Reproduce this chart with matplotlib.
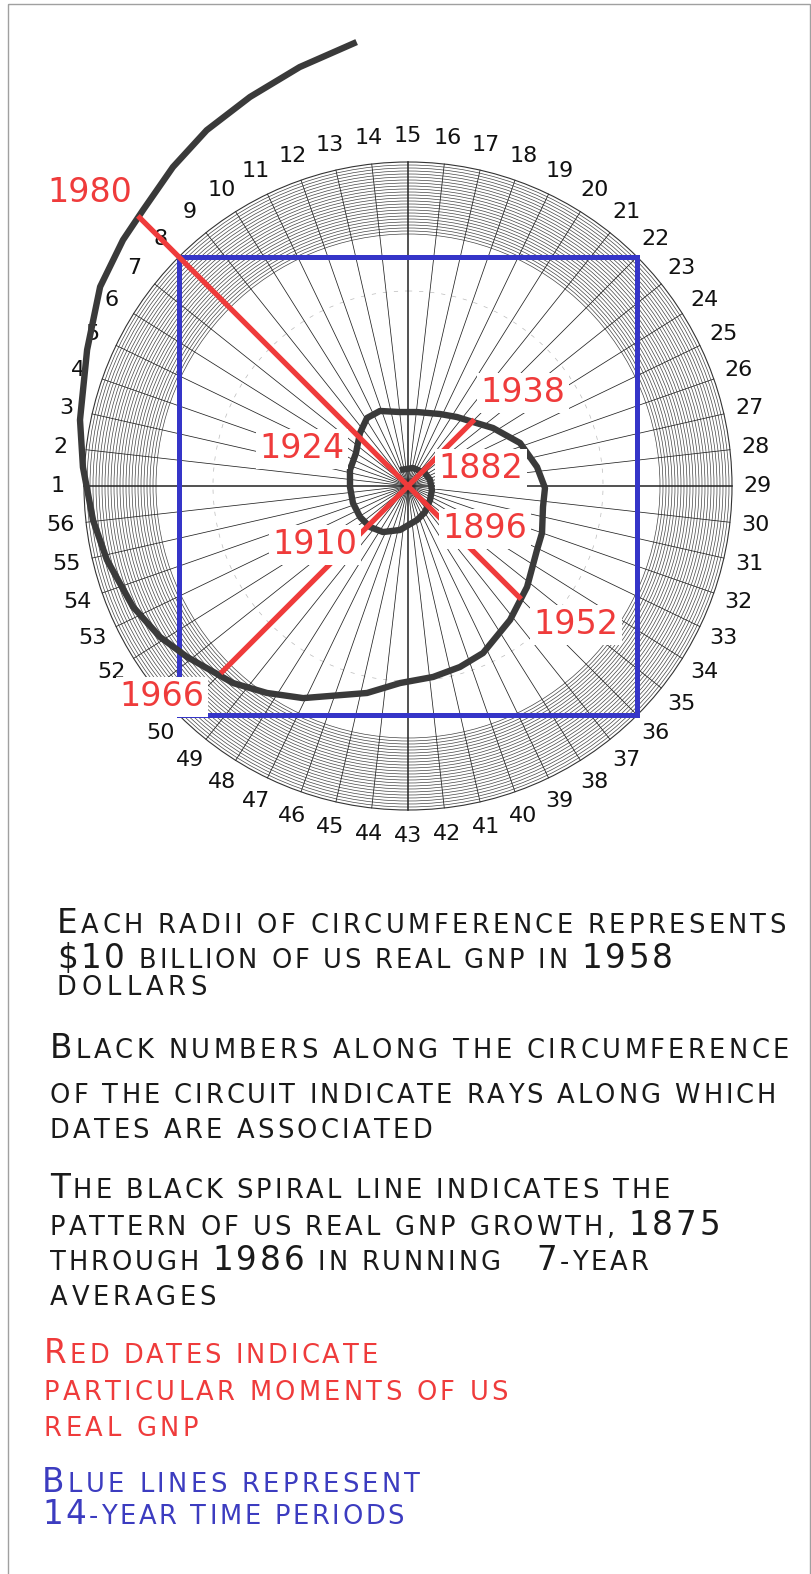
import numpy as np
import matplotlib.pyplot as plt
from matplotlib.patches import Circle, Rectangle
from matplotlib.font_manager import FontProperties

# ---------------- data ----------------
n_rays = 56
ray_numbers = list(range(1, n_rays + 1))

# black spiral (US real GNP, 7-year running averages), traced as angle (deg) / radius
spiral_angle = [116.6, 74.5, 37.4, 15.3, -9.5, -32.5, -56.8, -75.2, -100.3, -118.5,
                -132.8, -147.1, -162.8, -179.0, -195.4, -212.4, -227.8, -238.9, -249.5,
                -263.8, -276.9, -294.0, -305.4, -315.4, -325.7, -339.0, -351.6, -360.8,
                -368.8, -379.3, -386.4, -400.3, -412.7, -425.8, -434.0, -442.5, -452.3,
                -461.2, -476.3, -484.3, -491.6, -502.3, -508.7, -516.3, -526.2, -533.8,
                -543.3, -551.4, -563.0, -572.9, -580.8, -586.2, -593.6, -600.5, -607.9,
                -615.5, -623.4]
spiral_radius = [17.9, 18.7, 21.4, 22.8, 24.3, 26.1, 31.1, 35.2, 44.7, 52.4,
                 55.9, 57.1, 57.6, 58.0, 60.2, 61.6, 71.5, 79.4, 80.1,
                 74.4, 74.5, 78.8, 84.6, 91.2, 102.9, 120.0, 130.4, 137.0,
                 136.6, 142.0, 144.0, 156.1, 168.4, 183.1, 188.3, 192.6, 197.2,
                 211.0, 236.6, 250.5, 263.5, 279.4, 290.4, 300.4, 310.0, 316.8,
                 325.6, 334.6, 348.6, 366.7, 376.5, 382.6, 396.2, 408.8, 419.9,
                 432.7, 446.9]

# red lines: from (ray, radius) to (ray, radius), both pass through the centre
red_from_ray = [8, 50]
red_from_r = [382, 265]
red_to_ray = [36, 22]
red_to_r = [160, 94]

# blue square: corners on these rays (14-year periods)
square_rays = [8, 22, 36, 50]

red_dates = ["1980", "1938", "1924", "1882", "1896", "1910", "1952", "1966"]

notes = [
    ("Each radii of circumference represents", "black"),
    ("$10 billion of us real gnp in 1958", "black"),
    ("dollars", "black"),
    ("Black numbers along the circumference", "black"),
    ("of the circuit indicate rays along which", "black"),
    ("dates are associated", "black"),
    ("The black spiral line indicates the", "black"),
    ("pattern of us real gnp growth, 1875", "black"),
    ("through 1986 in running   7-year", "black"),
    ("averages", "black"),
    ("Red dates indicate", "red"),
    ("particular moments of us", "red"),
    ("real gnp", "red"),
    ("Blue lines represent", "blue"),
    ("14-year time periods", "blue"),
]

# ---------------- layout (pixels) ----------------
CX, CY = 408, 486
R_OUT = 324
R_LABEL = 350
date_pos = {"1980": (90, 193), "1938": (523, 393), "1924": (302, 449), "1882": (481, 469),
            "1896": (485, 529), "1910": (315, 545), "1952": (576, 625), "1966": (162, 697)}
# x, baseline y, right edge of each note line
note_pos = [(57, 933, 786), (57, 968, 673), (57, 995, 207),
            (50, 1058, 789), (50, 1103, 776), (50, 1138, 432),
            (50, 1198, 670), (50, 1235, 720), (50, 1270, 648), (50, 1305, 216),
            (44, 1363, 378), (44, 1400, 508), (44, 1436, 198),
            (42, 1492, 420), (42, 1524, 404)]
colors = {"black": "#1a1a1a", "red": "#ef3b3b", "blue": "#3c3cc0"}

RED = "#ef3b3b"
BLUE = "#3535c8"


def ray_angle(n):
    return np.radians(180 - (n - 1) * 360 / n_rays)


def to_xy(theta, r):
    return CX + r * np.cos(theta), CY - r * np.sin(theta)


fig = plt.figure(figsize=(8.12, 15.74), dpi=100)
ax = fig.add_axes([0, 0, 1, 1])
ax.set_xlim(0, 812)
ax.set_ylim(1574, 0)
ax.axis("off")

# frame
ax.add_patch(Rectangle((8, 4), 802, 1575, fill=False, ec="#a0a0a0", lw=1))

# polar paper: dense outer rings and rays
for rr in np.arange(252, R_OUT, 3):
    ax.add_patch(Circle((CX, CY), rr, fill=False, ec="#444444", lw=0.5, zorder=1))
ax.add_patch(Circle((CX, CY), R_OUT, fill=False, ec="#333333", lw=0.8, zorder=1))
ax.add_patch(Circle((CX, CY), 195, fill=False, ec="#bbbbbb", lw=0.5, ls=(0, (6, 10)), zorder=1))

for n in ray_numbers:
    t = ray_angle(n)
    x1, y1 = to_xy(t, R_OUT)
    main = n in (1, 15, 29, 43)
    ax.plot([CX, x1], [CY, y1], color="#222222", lw=1.1 if main else 0.55, zorder=1)
    lx, ly = to_xy(t, R_LABEL)
    ax.text(lx, ly, str(n), fontsize=16, family="DejaVu Sans", color="#111111",
            ha="center", va="center", zorder=2)

# blue square
bx, by = to_xy(np.array([ray_angle(n) for n in square_rays + square_rays[:1]]), R_OUT)
ax.plot(bx, by, color=BLUE, lw=3.6, solid_joinstyle="miter", zorder=3)

# spiral
sx, sy = to_xy(np.radians(spiral_angle), np.array(spiral_radius))
ax.plot(sx, sy, color="#3a3a3a", lw=4.6, solid_capstyle="butt", solid_joinstyle="round", zorder=4)

# red lines through the centre
for a, ra, b, rb in zip(red_from_ray, red_from_r, red_to_ray, red_to_r):
    xa, ya = to_xy(ray_angle(a), ra)
    xb, yb = to_xy(ray_angle(b), rb)
    ax.plot([xa, xb], [ya, yb], color=RED, lw=3.8, solid_capstyle="butt", zorder=5)

for d in red_dates:
    x, y = date_pos[d]
    ax.text(x, y, d, fontsize=24, family="DejaVu Sans", color=RED, ha="center", va="center",
            zorder=6, bbox=dict(boxstyle="square,pad=0.1", fc="white", ec="none"))

# small-caps notes, letter-spaced to the reference line widths
renderer = fig.canvas.get_renderer()
BIG, SMALL = 23.5, 18.5
FONT = "DejaVu Sans"


def caps_line(x, y, right, text, color):
    items = []
    for ch in text:
        size = SMALL if (ch.islower() or ch in " -,") else BIG
        items.append((ch.upper(), size))
    advs = []
    for ch, size in items:
        if ch == " ":
            advs.append(0.32 * size * 100 / 72)
        else:
            w, h, dsc = renderer.get_text_width_height_descent(
                ch, FontProperties(family=FONT, size=size), ismath=False)
            advs.append(w)
    gap = (right - x - sum(advs)) / (len(items) - 1)
    for (ch, size), a in zip(items, advs):
        if ch != " ":
            ax.text(x, y, ch, fontsize=size, family=FONT, color=color,
                    ha="left", va="baseline")
        x += a + gap


for (text, c), (x, y, right) in zip(notes, note_pos):
    caps_line(x, y, right, text, colors[c])

fig.savefig("out.png", dpi=100)
